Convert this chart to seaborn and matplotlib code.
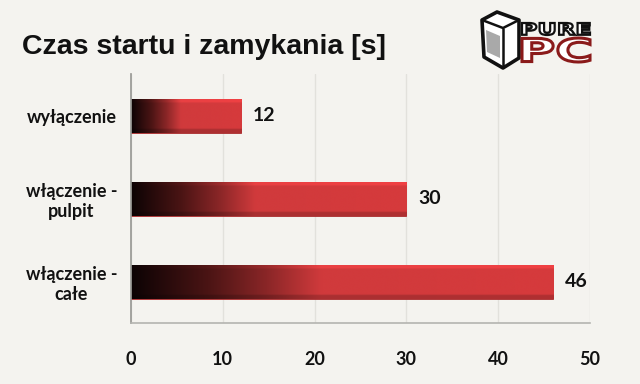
import numpy as np
import pandas as pd
import matplotlib
matplotlib.use("Agg")
import matplotlib.pyplot as plt
from matplotlib.colors import LinearSegmentedColormap
from matplotlib.patches import Polygon, PathPatch
from matplotlib.textpath import TextPath
from matplotlib.font_manager import FontProperties
from matplotlib.transforms import Affine2D, IdentityTransform
import seaborn as sns

categories = ["wyłączenie", "włączenie -\npulpit", "włączenie -\ncałe"]
values = [12, 30, 46]
x_ticks = [0, 10, 20, 30, 40, 50]
title = "Czas startu i zamykania [s]"

bg = "#f4f3ef"
sns.set_theme(style="white")
plt.rcParams["font.family"] = ["Lato", "DejaVu Sans"]

df = pd.DataFrame({"cat": categories, "val": values})

fig = plt.figure(figsize=(6.4, 3.84), dpi=100, facecolor=bg)
ax = fig.add_axes([0.2047, 0.1576, 0.7172, 0.6484])
ax.set_facecolor(bg)

sns.barplot(data=df, x="val", y="cat", orient="h", width=0.4, color="#d63a3c", ax=ax)

ax.set_xlim(0, 50)
ax.set_ylim(2.5, -0.5)
ax.set_xticks(x_ticks)
ax.xaxis.grid(True, color="#e2e1dc", linewidth=1)
ax.set_axisbelow(True)
for s in ["top", "right"]:
    ax.spines[s].set_visible(False)
ax.spines["left"].set_color("#9a9a96")
ax.spines["bottom"].set_color("#b4b4b0")
ax.spines["bottom"].set_linewidth(1.2)
ax.tick_params(axis="both", length=0)
ax.tick_params(axis="x", pad=20, labelsize=13)
ax.tick_params(axis="y", pad=10, labelsize=13)
for lbl in ax.get_xticklabels() + ax.get_yticklabels():
    lbl.set_fontweight("bold")
    lbl.set_color("#111111")
for lbl in ax.get_yticklabels():
    lbl.set_multialignment("center")
ax.set_xlabel("")
ax.set_ylabel("")

# gradient fill: black -> dark red -> red along the bar, bevel shading vertically
cmap = LinearSegmentedColormap.from_list(
    "bar", [(0, "#0c0304"), (0.18, "#4a1414"), (0.32, "#8a2627"), (0.45, "#d03a3c"), (1, "#d63a3c")])
nx, ny = 256, 40
grad = cmap(np.linspace(0, 1, nx))[:, :3]
rows = np.ones(ny)
rows[:4] = 1.12
rows[-5:] = 0.82
img = np.clip(grad[None, :, :] * rows[:, None, None], 0, 1)

for bar in ax.patches:
    x0, y0 = bar.get_x(), bar.get_y()
    w, h = bar.get_width(), bar.get_height()
    bar.set_edgecolor("#a82a2c")
    bar.set_linewidth(0.6)
    im = ax.imshow(img, extent=[x0, x0 + w, y0 + h, y0], aspect="auto",
                   interpolation="bicubic", zorder=bar.get_zorder() + 0.1)
    im.set_clip_path(bar)
    ax.text(x0 + w + 1.3, y0 + h / 2, f"{w:g}", va="center", ha="left",
            fontsize=14, fontweight="bold", color="#111111")

ax.set_xlim(0, 50)
ax.set_ylim(2.5, -0.5)

fig.text(0.034, 0.877, title, fontsize=20.5, fontweight="bold", family="Liberation Sans",
         color="#111111", va="center", ha="left")


# logo, drawn in pixel coordinates (top-left origin converted)
def px(x, y):
    return (x, 384 - y)


def word(s, x0, y0, x1, y1, face, edge, lw):
    tp = TextPath((0, 0), s, size=10, prop=FontProperties(family="DejaVu Sans", weight="bold"))
    ext = tp.get_extents()
    sx = (x1 - x0) / ext.width
    sy = (y1 - y0) / ext.height
    tr = Affine2D().translate(-ext.x0, -ext.y0).scale(sx, sy).translate(x0, 384 - y1)
    fig.add_artist(PathPatch(tr.transform_path(tp), facecolor=face, edgecolor=edge,
                             linewidth=lw, transform=IdentityTransform()))


def poly(pts, **kw):
    fig.add_artist(Polygon([px(*p) for p in pts], transform=IdentityTransform(),
                           joinstyle="round", **kw))


poly([(482, 20), (497, 12), (519, 20), (519, 58), (503, 68), (484, 57)], closed=True,
     facecolor="white", edgecolor="#111111", linewidth=2.6)
poly([(482, 20), (503, 28), (519, 20)], closed=False, fill=False, edgecolor="#111111", linewidth=1.8)
poly([(503, 28), (503, 68)], closed=False, fill=False, edgecolor="#111111", linewidth=1.8)
poly([(486, 30), (500, 36), (500, 58), (487, 52)], closed=True, facecolor="#555555",
     edgecolor="none", alpha=0.5)
word("PURE", 522, 23, 590, 35, "white", "#111111", 1.6)
word("PC", 522, 38, 590, 62, "white", "#8a1a1a", 2.2)

fig.savefig("out.png", dpi=100, facecolor=bg)
